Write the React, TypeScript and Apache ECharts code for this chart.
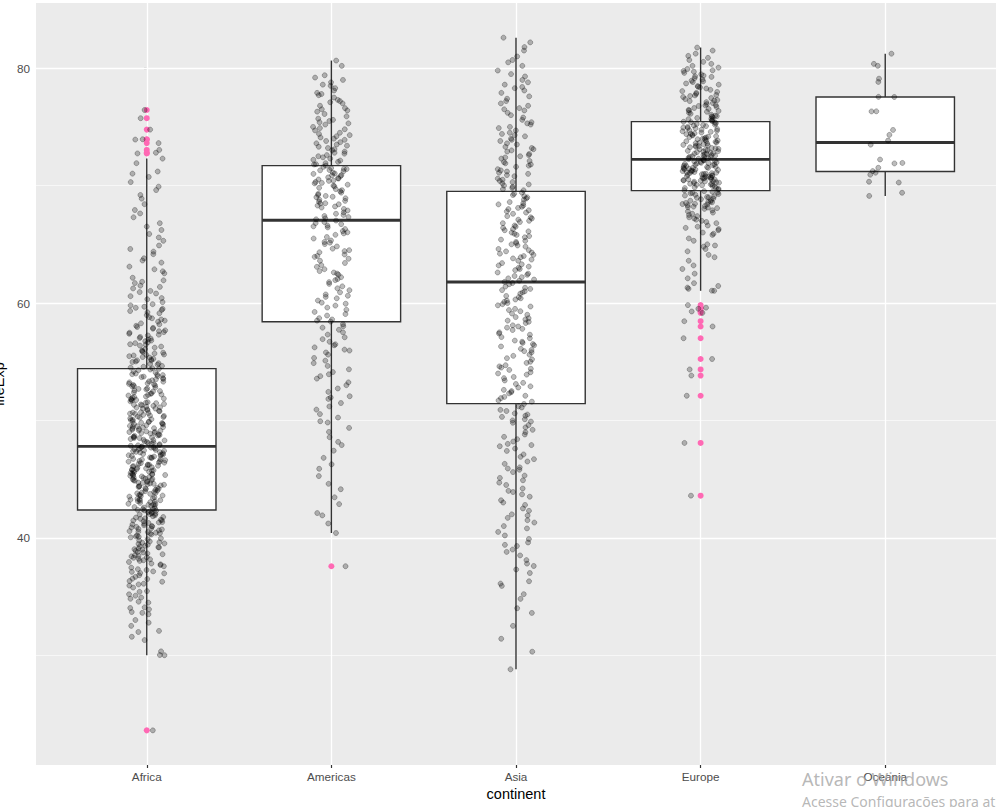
import React, { useEffect, useRef } from "react";
import * as echarts from "echarts";

const continents = ["Africa", "Americas", "Asia", "Europe", "Oceania"];
const yTickValues = [40, 60, 80];
const yMinorValues = [30, 50, 70];

// box statistics: [lower whisker, Q1, median, Q3, upper whisker]
const whiskerLow = [30.0, 40.41, 28.8, 61.04, 69.12];
const boxQ1 = [42.37, 58.41, 51.43, 69.57, 71.2];
const boxMedian = [47.79, 67.05, 61.79, 72.24, 73.67];
const boxQ3 = [54.41, 71.7, 69.51, 75.45, 77.55];
const whiskerHigh = [72.3, 80.65, 82.6, 81.76, 81.24];

const outliersAfrica = [23.6, 72.74, 72.8, 73.04, 73.62, 73.92, 73.95, 74.77, 75.74, 76.44];
const outliersAmericas = [37.58];
const outliersAsia: number[] = [];
const outliersEurope = [43.59, 48.08, 52.1, 53.82, 54.34, 55.23, 57.0, 58.0, 58.45, 59.16, 59.28, 59.51, 59.6, 59.82];
const outliersOceania: number[] = [];

const lifeExpAfrica = [
  23.6,
  30.0, 30.02, 30.33, 31.29, 31.57, 31.98,
  32.07, 32.5, 32.77, 33.0, 33.49, 33.61, 33.68, 33.91,
  34.08, 34.48, 34.81, 34.91, 35.19, 35.46, 35.93, 34.56, 35.4, 35.76, 34.02, 35.07,
  36.03, 36.09, 36.26, 36.32, 36.49, 36.68, 36.81, 36.97, 37.0, 37.14, 37.26, 37.33, 37.46, 37.58, 37.68, 37.81, 37.94, 36.52, 37.1, 37.74,
  38.09, 38.17, 38.22, 38.35, 38.42, 38.52, 38.6, 38.67, 38.8, 38.89, 38.99, 39.03, 39.18, 39.2, 39.33, 39.41, 39.48, 39.52, 39.62, 39.69, 39.77, 39.88, 39.95, 38.03, 38.3, 38.47, 38.75, 39.1, 39.27, 39.58,
  40.04, 40.12, 40.2, 40.28, 40.36, 40.43, 40.49, 40.57, 40.64, 40.71, 40.8, 40.88, 40.93, 41.0, 41.07, 41.14, 41.2, 41.26, 41.34, 41.41, 41.47, 41.54, 41.62, 41.72, 41.77, 41.84, 41.92, 41.98, 40.08, 40.52, 40.97, 41.31, 41.66, 40.39, 40.75, 41.5,
  42.02, 42.08, 42.14, 42.19, 42.27, 42.31, 42.38, 42.44, 42.5, 42.58, 42.62, 42.69, 42.73, 42.81, 42.86, 42.9, 42.97, 43.04, 43.09, 43.16, 43.2, 43.28, 43.33, 43.37, 43.45, 43.51, 43.55, 43.63, 43.68, 43.74, 43.79, 43.86, 43.9, 43.97, 42.05, 42.46, 42.88, 43.25, 43.6, 43.82, 42.34, 43.12,
  44.03, 44.1, 44.15, 44.22, 44.26, 44.33, 44.41, 44.46, 44.52, 44.57, 44.63, 44.7, 44.76, 44.82, 44.87, 44.92, 45.0, 45.04, 45.11, 45.17, 45.23, 45.28, 45.35, 45.4, 45.45, 45.52, 45.58, 45.63, 45.69, 45.75, 45.81, 45.86, 45.91, 45.98, 44.18, 44.6, 45.01, 45.38, 45.72, 44.37, 44.9, 45.31, 45.79, 44.68, 45.13, 45.49,
  46.01, 46.07, 46.14, 46.19, 46.24, 46.3, 46.36, 46.42, 46.49, 46.55, 46.61, 46.66, 46.72, 46.8, 46.85, 46.92, 46.97, 47.03, 47.08, 47.14, 47.2, 47.27, 47.32, 47.38, 47.44, 47.51, 47.56, 47.62, 47.68, 47.73, 47.79, 47.84, 47.9, 47.97, 46.21, 46.52, 46.83, 47.1, 47.41, 47.7, 46.4, 46.69, 47.0, 47.3, 47.6, 47.88, 46.1, 47.49,
  48.03, 48.1, 48.16, 48.22, 48.29, 48.36, 48.42, 48.49, 48.55, 48.61, 48.68, 48.75, 48.81, 48.88, 48.95, 49.01, 49.07, 49.14, 49.21, 49.27, 49.34, 49.4, 49.46, 49.53, 49.59, 49.66, 49.73, 49.8, 49.86, 49.94, 48.32, 48.71, 49.11, 49.5, 49.9, 48.5, 48.92, 49.31, 49.69, 48.07, 48.58, 49.03, 49.43, 49.77,
  50.02, 50.1, 50.17, 50.24, 50.33, 50.41, 50.47, 50.55, 50.63, 50.7, 50.78, 50.86, 50.94, 51.01, 51.09, 51.16, 51.24, 51.33, 51.4, 51.47, 51.55, 51.62, 51.7, 51.78, 51.86, 51.93, 51.99, 50.29, 50.67, 51.12, 51.51, 51.82, 50.06, 50.58, 50.99, 51.36, 51.74, 50.38, 50.81, 51.28,
  52.04, 52.12, 52.21, 52.3, 52.38, 52.47, 52.55, 52.64, 52.72, 52.81, 52.9, 52.98, 53.07, 53.16, 53.24, 53.33, 53.42, 53.5, 53.6, 53.69, 53.77, 53.86, 53.94, 53.99, 52.27, 52.68, 53.11, 53.53, 53.9, 52.5, 52.93, 53.3, 53.73, 52.17, 53.02,
  54.07, 54.16, 54.28, 54.39, 54.5, 54.64, 54.75, 54.87, 54.98, 55.1, 55.24, 55.35, 55.47, 55.58, 55.7, 55.84, 55.96, 54.44, 54.81, 55.19, 55.61, 55.9, 54.57, 55.02, 55.4, 55.77, 54.33, 55.12, 55.53,
  56.08, 56.2, 56.37, 56.49, 56.66, 56.8, 56.97, 57.11, 57.24, 57.38, 57.52, 57.67, 57.81, 57.96, 56.29, 56.58, 56.9, 57.3, 57.6, 57.88, 56.45, 57.02, 57.47, 56.75,
  58.06, 58.27, 58.41, 58.6, 58.79, 58.97, 59.13, 59.32, 59.5, 59.68, 59.9, 58.18, 58.7, 59.21, 59.59, 58.5, 59.41, 59.8,
  60.08, 60.32, 60.58, 60.81, 61.03, 61.24, 61.48, 61.7, 61.93, 60.42, 60.93, 61.37, 61.81,
  62.15, 62.53, 62.87, 63.1, 63.44, 63.81, 62.7, 63.62,
  64.16, 64.6, 64.9, 65.3, 65.58, 65.88, 64.38,
  66.22, 66.8, 67.3, 67.63, 67.92, 66.51,
  68.42, 68.89, 69.2, 69.62, 69.91,
  70.3, 70.74, 71.02, 71.2, 71.91, 72.3,
  72.74, 72.8, 73.04, 73.62, 73.92, 73.95, 74.77, 75.74, 76.44,
];

const lifeExpAmericas = [
  37.58,
  40.41, 41.22, 41.91,
  42.11, 42.87, 43.45,
  44.14, 44.6, 45.26, 45.88,
  46.26, 46.81, 47.42, 47.9,
  48.17, 48.57, 49.02, 49.36, 49.82, 49.93,
  50.24, 50.54, 50.92, 51.19, 51.48, 51.83, 51.95,
  52.06, 52.43, 52.72, 53.0, 53.24, 53.56, 53.77, 53.93,
  54.12, 54.35, 54.64, 54.88, 55.09, 55.32, 55.6, 55.79, 55.95,
  56.03, 56.22, 56.48, 56.7, 56.92, 57.08, 57.31, 57.5, 57.72, 57.9, 56.4,
  58.02, 58.19, 58.42, 58.5, 58.71, 58.93, 59.06, 59.24, 59.42, 59.61, 59.78, 59.94, 58.6,
  60.03, 60.21, 60.4, 60.52, 60.73, 60.91, 61.09, 61.25, 61.42, 61.63, 61.78, 61.95, 60.62,
  62.04, 62.2, 62.41, 62.6, 62.72, 62.88, 63.08, 63.23, 63.41, 63.6, 63.77, 63.93, 62.51,
  64.01, 64.13, 64.32, 64.5, 64.63, 64.82, 65.02, 65.14, 65.33, 65.49, 65.62, 65.81, 65.93, 64.42, 65.2,
  66.02, 66.13, 66.3, 66.44, 66.6, 66.72, 66.9, 67.02, 67.13, 67.32, 67.41, 67.6, 67.72, 67.88, 66.53, 66.81, 67.21, 67.5,
  68.01, 68.13, 68.22, 68.41, 68.5, 68.63, 68.8, 68.92, 69.01, 69.12, 69.3, 69.4, 69.52, 69.7, 69.81, 69.94, 68.3, 68.7, 69.21, 69.61, 68.48, 69.05,
  70.0, 70.08, 70.19, 70.31, 70.4, 70.52, 70.6, 70.7, 70.81, 70.9, 71.0, 71.1, 71.22, 71.3, 71.41, 71.5, 71.6, 71.7, 71.8, 71.91, 70.23, 70.63, 71.03, 71.42, 71.82, 70.42, 70.88, 71.33,
  72.02, 72.13, 72.3, 72.41, 72.6, 72.72, 72.9, 73.02, 73.2, 73.31, 73.5, 73.6, 73.8, 73.9, 72.2, 72.5, 72.8, 73.1, 73.4, 73.7,
  74.0, 74.2, 74.3, 74.5, 74.7, 74.9, 75.0, 75.2, 75.4, 75.5, 75.7, 75.9, 74.4, 74.8, 75.3, 75.6, 74.1,
  76.1, 76.3, 76.4, 76.6, 76.8, 77.0, 77.2, 77.3, 77.5, 77.7, 77.9, 76.5, 77.1, 77.8,
  78.1, 78.3, 78.6, 78.8, 79.2, 79.4, 78.5, 79.0,
  80.2, 80.65,
];

const lifeExpAsia = [
  28.8,
  30.3, 31.4,
  32.5, 33.6,
  34.0, 34.8, 35.2, 35.9,
  36.1, 36.3, 37.0, 37.3, 37.6, 37.8,
  38.1, 38.5, 38.8, 39.0, 39.3, 39.4, 39.6, 39.9,
  40.2, 40.5, 40.8, 41.0, 41.3, 41.5, 41.7, 41.9,
  42.0, 42.3, 42.5, 42.8, 43.0, 43.2, 43.5, 43.7, 43.9,
  44.0, 44.2, 44.5, 44.7, 44.9, 45.1, 45.3, 45.6, 45.8, 45.9,
  46.0, 46.3, 46.5, 46.7, 46.9, 47.1, 47.4, 47.6, 47.8, 47.9,
  48.0, 48.2, 48.4, 48.6, 48.8, 49.0, 49.2, 49.4, 49.6, 49.8, 49.9,
  50.0, 50.1, 50.3, 50.4, 50.6, 50.8, 50.9, 51.1, 51.2, 51.4, 51.6, 51.7, 51.9, 50.5,
  52.0, 52.1, 52.3, 52.4, 52.6, 52.8, 52.9, 53.1, 53.2, 53.4, 53.6, 53.7, 53.9, 52.5,
  54.0, 54.1, 54.3, 54.4, 54.6, 54.7, 54.9, 55.0, 55.2, 55.3, 55.5, 55.6, 55.8, 55.9, 54.5,
  56.0, 56.1, 56.3, 56.4, 56.5, 56.7, 56.8, 57.0, 57.1, 57.3, 57.4, 57.5, 57.7, 57.8, 57.9, 56.6,
  58.0, 58.1, 58.3, 58.4, 58.5, 58.7, 58.8, 59.0, 59.1, 59.3, 59.4, 59.5, 59.7, 59.8, 59.9, 58.6,
  60.0, 60.1, 60.2, 60.4, 60.5, 60.6, 60.8, 60.9, 61.0, 61.2, 61.3, 61.4, 61.6, 61.7, 61.8, 61.9, 60.3, 61.1,
  62.0, 62.1, 62.2, 62.4, 62.5, 62.6, 62.8, 62.9, 63.0, 63.2, 63.3, 63.4, 63.6, 63.7, 63.8, 63.9, 62.3, 63.1,
  64.0, 64.1, 64.2, 64.4, 64.5, 64.6, 64.8, 64.9, 65.0, 65.2, 65.3, 65.4, 65.6, 65.7, 65.8, 65.9, 64.3, 65.1,
  66.0, 66.1, 66.2, 66.4, 66.5, 66.6, 66.8, 66.9, 67.0, 67.2, 67.3, 67.4, 67.6, 67.7, 67.8, 67.9, 66.3, 67.1,
  68.0, 68.1, 68.2, 68.4, 68.5, 68.6, 68.8, 68.9, 69.0, 69.2, 69.3, 69.4, 69.6, 69.7, 69.8, 69.9, 68.3, 69.1,
  70.0, 70.1, 70.2, 70.4, 70.5, 70.6, 70.8, 70.9, 71.0, 71.2, 71.3, 71.4, 71.6, 71.7, 71.8, 71.9, 70.3, 71.1,
  72.0, 72.1, 72.3, 72.4, 72.6, 72.7, 72.9, 73.0, 73.2, 73.3, 73.5, 73.6, 73.8, 73.9, 72.5, 73.1,
  74.0, 74.2, 74.3, 74.5, 74.7, 74.9, 75.0, 75.2, 75.4, 75.6, 75.8, 74.4, 75.3,
  76.0, 76.2, 76.4, 76.6, 76.8, 77.0, 77.2, 77.4, 77.6, 77.9, 76.5,
  78.1, 78.3, 78.6, 78.8, 79.0, 79.3, 79.5, 79.8, 78.4,
  80.2, 80.5, 80.7, 81.0, 81.5, 81.8,
  82.2, 82.6,
];

const lifeExpEurope = [
  43.59, 48.08, 52.1, 53.82, 54.34, 55.23, 57.0, 58.0, 58.45, 59.16, 59.28, 59.51, 59.6, 59.82,
  61.04, 61.05, 61.21, 61.31, 61.45, 61.69,
  62.1, 62.5, 62.9, 63.2, 63.6, 63.9,
  64.1, 64.4, 64.6, 64.8, 64.9, 65.0, 65.3, 65.5, 65.8, 65.9,
  66.0, 66.2, 66.3, 66.4, 66.5, 66.6, 66.8, 66.9, 67.0, 67.1, 67.2, 67.3, 67.4, 67.5, 67.6, 67.7, 67.8, 67.9,
  68.02, 68.08, 68.13, 68.21, 68.26, 68.33, 68.39, 68.45, 68.52, 68.58, 68.64, 68.71, 68.77, 68.84, 68.9, 68.96, 69.03, 69.09, 69.15, 69.22, 69.28, 69.35, 69.41, 69.47, 69.53, 69.6, 69.66, 69.72, 69.79, 69.85, 69.91, 69.97, 68.17, 68.6, 69.0, 69.38, 69.81, 68.43,
  70.03, 70.07, 70.14, 70.16, 70.21, 70.29, 70.33, 70.38, 70.42, 70.47, 70.51, 70.56, 70.6, 70.64, 70.69, 70.75, 70.78, 70.84, 70.88, 70.93, 70.97, 71.01, 71.06, 71.1, 71.13, 71.19, 71.24, 71.27, 71.33, 71.38, 71.4, 71.46, 71.51, 71.55, 71.6, 71.66, 71.7, 71.74, 71.8, 71.85, 71.89, 71.94, 71.98, 70.11, 70.25, 70.44, 70.53, 70.72, 70.81, 70.99, 71.16, 71.29, 71.43, 71.58, 71.77, 71.92, 70.36, 70.66, 71.08, 71.52,
  72.02, 72.06, 72.11, 72.17, 72.22, 72.26, 72.3, 72.37, 72.41, 72.46, 72.5, 72.55, 72.62, 72.67, 72.7, 72.76, 72.81, 72.85, 72.9, 72.96, 73.01, 73.06, 73.1, 73.17, 73.21, 73.27, 73.32, 73.36, 73.42, 73.47, 73.53, 73.58, 73.64, 73.68, 73.73, 73.78, 73.84, 73.89, 73.95, 73.99, 72.14, 72.34, 72.58, 72.73, 72.93, 73.13, 73.39, 73.61, 73.81, 72.44,
  74.03, 74.09, 74.14, 74.21, 74.27, 74.33, 74.38, 74.45, 74.52, 74.58, 74.63, 74.7, 74.76, 74.82, 74.88, 74.94, 75.0, 75.07, 75.12, 75.19, 75.25, 75.31, 75.37, 75.44, 75.5, 75.57, 75.63, 75.7, 75.76, 75.83, 75.89, 75.96, 74.17, 74.42, 74.67, 74.91, 75.16, 75.4, 75.66, 75.92,
  76.04, 76.12, 76.2, 76.29, 76.36, 76.45, 76.53, 76.61, 76.7, 76.78, 76.86, 76.94, 77.03, 77.11, 77.2, 77.29, 77.37, 77.46, 77.55, 77.63, 77.72, 77.81, 77.9, 77.98, 76.4, 76.83, 77.25, 77.68,
  78.05, 78.16, 78.27, 78.37, 78.48, 78.6, 78.7, 78.82, 78.93, 79.04, 79.15, 79.26, 79.37, 79.48, 79.6, 79.7, 79.82, 79.93, 78.42, 78.88, 79.31, 79.77,
  80.05, 80.2, 80.37, 80.54, 80.7, 80.88, 81.05, 81.24, 81.5, 81.76,
];

const lifeExpOceania = [
  69.12, 70.33, 70.93, 71.1, 71.93, 73.49, 74.74, 76.32, 77.56, 78.83, 80.37, 81.235,
  69.39, 70.26, 71.24, 71.52, 71.89, 72.22, 73.84, 74.32, 76.33, 77.55, 79.11, 80.204,
];

const lifeExpByContinent = [lifeExpAfrica, lifeExpAmericas, lifeExpAsia, lifeExpEurope, lifeExpOceania];
const outliersByContinent = [outliersAfrica, outliersAmericas, outliersAsia, outliersEurope, outliersOceania];

// deterministic horizontal jitter (position only), +-0.1 category widths
function jitter(i: number, k: number): number {
  let h = (i + 1) * 374761393 + (k + 1) * 668265263;
  h = (h ^ (h >>> 13)) >>> 0;
  h = Math.imul(h, 1274126177) >>> 0;
  h = (h ^ (h >>> 16)) >>> 0;
  return (h / 4294967295) * 2 - 1;
}

const FONT = "Liberation Sans, Arial, Helvetica, sans-serif";
const WM_FONT = "Noto Sans, Open Sans, sans-serif";

export default function App() {
  const ref = useRef<HTMLDivElement>(null);
  useEffect(() => {
    if (!ref.current) return;
    const chart = echarts.init(ref.current, null, { renderer: "svg" });

    const boxData = continents.map((_, i) => [i, whiskerLow[i], boxQ1[i], boxMedian[i], boxQ3[i], whiskerHigh[i]]);
    const outlierData: number[][] = [];
    outliersByContinent.forEach((arr, k) => arr.forEach((v) => outlierData.push([k, v])));
    const jitterData: number[][] = [];
    lifeExpByContinent.forEach((arr, k) =>
      arr.forEach((v, i) => jitterData.push([k + 0.1 * jitter(i, k), v]))
    );

    const gridLines: any[] = [];
    yMinorValues.forEach((v) => gridLines.push({ yAxis: v, lineStyle: { width: 0.6 } }));
    yTickValues.forEach((v) => gridLines.push({ yAxis: v, lineStyle: { width: 1.3 } }));
    continents.forEach((_, i) => gridLines.push({ xAxis: i, lineStyle: { width: 1.3 } }));

    const option: any = {
      animation: false,
      backgroundColor: "#ffffff",
      textStyle: { fontFamily: FONT },
      grid: {
        left: 36,
        right: 0,
        top: 3,
        bottom: 42,
        containLabel: false,
        outerBoundsMode: "none",
        show: true,
        backgroundColor: "#EBEBEB",
        borderWidth: 0,
      },
      xAxis: {
        type: "value",
        min: -0.6,
        max: 4.6,
        name: "continent",
        nameLocation: "middle",
        nameGap: 21,
        nameTextStyle: { color: "#000000", fontSize: 14.5, fontFamily: FONT, verticalAlign: "top" },
        axisLine: { show: false },
        axisTick: { show: true, length: 3, customValues: [0, 1, 2, 3, 4], lineStyle: { color: "#333333", width: 1.2 } },
        axisLabel: {
          customValues: [0, 1, 2, 3, 4],
          formatter: (v: number) => continents[Math.round(v)] ?? "",
          color: "#4D4D4D",
          fontSize: 11.7,
          fontFamily: FONT,
          margin: 5,
        },
        splitLine: { show: false },
      },
      yAxis: {
        type: "value",
        min: 20.649,
        max: 85.554,
        name: "lifeExp",
        nameLocation: "middle",
        nameGap: 25,
        nameTextStyle: { color: "#000000", fontSize: 14.5, fontFamily: FONT },
        axisLine: { show: false },
        axisTick: { show: true, length: 3, customValues: yTickValues, lineStyle: { color: "#333333", width: 1.2 } },
        axisLabel: {
          customValues: yTickValues,
          color: "#4D4D4D",
          fontSize: 11.7,
          fontFamily: FONT,
          margin: 6,
        },
        splitLine: { show: false },
      },
      series: [
        {
          type: "scatter",
          z: 1,
          silent: true,
          data: [[-5, -5]],
          symbolSize: 0,
          markLine: {
            z: 1,
            silent: true,
            symbol: ["none", "none"],
            label: { show: false },
            animation: false,
            lineStyle: { color: "#ffffff", type: "solid" },
            emphasis: { disabled: true },
            data: gridLines,
          },
        },
        {
          type: "custom",
          z: 2,
          silent: true,
          data: boxData,
          encode: { x: 0, y: [1, 2, 3, 4, 5] },
          renderItem: (params: any, api: any) => {
            const x = api.value(0);
            const lo = api.coord([x, api.value(1)]);
            const b1 = api.coord([x, api.value(2)]);
            const md = api.coord([x, api.value(3)]);
            const b3 = api.coord([x, api.value(4)]);
            const hi = api.coord([x, api.value(5)]);
            const half = api.size([0.75, 0])[0] / 2;
            const stroke = "#333333";
            return {
              type: "group",
              children: [
                { type: "line", shape: { x1: lo[0], y1: lo[1], x2: b1[0], y2: b1[1] }, style: { stroke, lineWidth: 1.4 } },
                { type: "line", shape: { x1: b3[0], y1: b3[1], x2: hi[0], y2: hi[1] }, style: { stroke, lineWidth: 1.4 } },
                {
                  type: "rect",
                  shape: { x: b1[0] - half, y: b3[1], width: half * 2, height: b1[1] - b3[1] },
                  style: { fill: "#ffffff", stroke, lineWidth: 1.4 },
                },
                {
                  type: "line",
                  shape: { x1: md[0] - half, y1: md[1], x2: md[0] + half, y2: md[1] },
                  style: { stroke, lineWidth: 2.8 },
                },
              ],
            };
          },
        },
        {
          type: "scatter",
          z: 3,
          silent: true,
          data: outlierData,
          symbolSize: 6,
          itemStyle: { color: "#FF69B4", opacity: 1 },
        },
        {
          type: "scatter",
          z: 4,
          silent: true,
          data: jitterData,
          symbolSize: 5,
          itemStyle: { color: "rgba(0,0,0,0.33)", borderColor: "rgba(0,0,0,0.33)", borderWidth: 1 },
        },
      ],
      graphic: [
        {
          type: "text",
          left: 802,
          top: 770,
          z: 100,
          silent: true,
          style: { text: "Ativar o Windows", fill: "rgba(165,165,165,0.8)", fontSize: 18, fontFamily: WM_FONT },
        },
        {
          type: "text",
          left: 802,
          top: 794,
          z: 100,
          silent: true,
          style: { text: "Acesse Configurações para ativar o Windows.", fill: "rgba(165,165,165,0.8)", fontSize: 14, fontFamily: WM_FONT },
        },
      ],
    };
    chart.setOption(option);
    return () => chart.dispose();
  }, []);
  return <div ref={ref} style={{ position: "absolute", left: 0, top: 0, width: 996, height: 807 }} />;
}
